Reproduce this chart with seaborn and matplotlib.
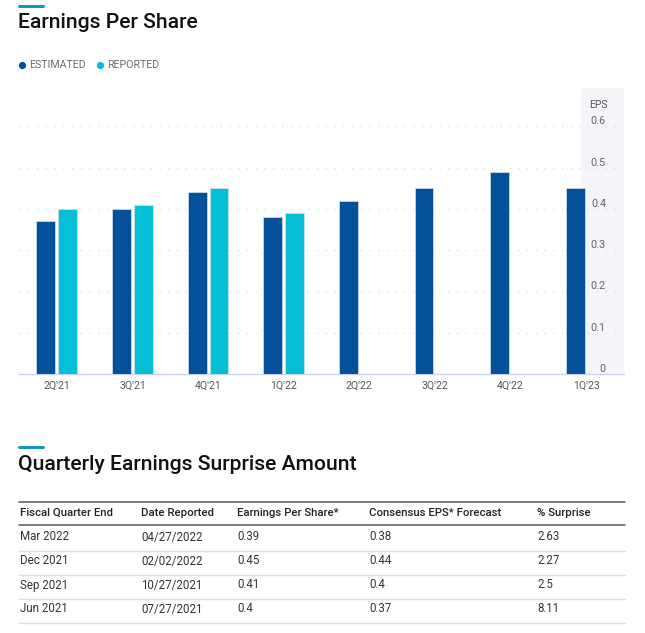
import seaborn as sns
import matplotlib.pyplot as plt
import pandas as pd
import numpy as np
from matplotlib.lines import Line2D

# Chart data
quarters = ["2Q'21", "3Q'21", "4Q'21", "1Q'22", "2Q'22", "3Q'22", "4Q'22", "1Q'23"]
estimated = [0.37, 0.40, 0.44, 0.38, 0.42, 0.45, 0.49, 0.45]
reported = [0.40, 0.41, 0.45, 0.39, np.nan, np.nan, np.nan, np.nan]
y_ticks = [0, 0.1, 0.2, 0.3, 0.4, 0.5, 0.6]

# Table data
table_header = ["Fiscal Quarter End", "Date Reported", "Earnings Per Share*",
                "Consensus EPS* Forecast", "% Surprise"]
fiscal_quarter = ["Mar 2022", "Dec 2021", "Sep 2021", "Jun 2021"]
date_reported = ["04/27/2022", "02/02/2022", "10/27/2021", "07/27/2021"]
eps_actual = ["0.39", "0.45", "0.41", "0.4"]
eps_forecast = ["0.38", "0.44", "0.4", "0.37"]
pct_surprise = ["2.63", "2.27", "2.5", "8.11"]

EST_COLOR = "#02519a"
REP_COLOR = "#04bfd6"
ACCENT = "#1396c2"

sns.set_style("white")
plt.rcParams['font.family'] = ['Roboto', 'DejaVu Sans']

df = pd.DataFrame({
    'quarter': quarters * 2,
    'series': ['Estimated'] * len(quarters) + ['Reported'] * len(quarters),
    'eps': estimated + reported,
})

W, H = 645, 633
fig = plt.figure(figsize=(W / 100, H / 100), dpi=100)


def fx(px):
    return px / W


def fy(py):
    return 1 - py / H


# Header accent + title
fig.add_artist(Line2D([fx(19), fx(43)], [fy(6), fy(6)], color=ACCENT, lw=2.2))
fig.text(fx(18), fy(22), "Earnings Per Share", fontsize=15.2, color='#111111',
         va='center', ha='left', fontweight='medium')

# Legend
fig.add_artist(Line2D([fx(22)], [fy(65)], marker='o', markersize=4.2, color=EST_COLOR, lw=0))
fig.text(fx(29), fy(65), "ESTIMATED", fontsize=7.7, color='#6b6b6b', va='center')
fig.add_artist(Line2D([fx(100)], [fy(65)], marker='o', markersize=4.2, color=REP_COLOR, lw=0))
fig.text(fx(107), fy(65), "REPORTED", fontsize=7.7, color='#6b6b6b', va='center')

# Bar chart
ax_left, ax_right, ax_top, ax_bottom = 19, 624, 88, 374
ax = fig.add_axes([fx(ax_left), fy(ax_bottom), (ax_right - ax_left) / W, (ax_bottom - ax_top) / H])
sns.barplot(data=df, x='quarter', y='eps', hue='series', order=quarters,
            hue_order=['Estimated', 'Reported'], palette=[EST_COLOR, REP_COLOR],
            width=0.58, gap=0.14, saturation=1, ax=ax, legend=False, zorder=3,
            edgecolor='#d5e3f0', linewidth=0.5)

ax.set_xlim(-0.5, len(quarters) - 0.5)
ax.set_ylim(0, (ax_bottom - ax_top) / 413.0)
ax.axvspan(6.93, len(quarters) - 0.5, color='#f4f4f9', zorder=0, lw=0)

for t in y_ticks[1:]:
    ax.axhline(t, color='#dcdcdc', lw=0.9, linestyle=(0, (1, 6)), zorder=1)

ax.yaxis.tick_right()
ax.set_yticks(y_ticks)
ax.set_yticklabels([f"{t:g}" for t in y_ticks], fontsize=7.8, color='#666666')
ax.tick_params(axis='y', length=0, pad=-13)
for lab in ax.get_yticklabels():
    lab.set_ha('right')
    lab.set_va('bottom')
ax.text(0.957, 0.94, "EPS", transform=ax.transAxes, fontsize=7.4, color='#555555',
        ha='center', va='center')

ax.tick_params(axis='x', length=0, pad=5, labelsize=7.6, labelcolor='#555555')
ax.set_xlabel('')
ax.set_ylabel('')
for s in ['top', 'right', 'left']:
    ax.spines[s].set_visible(False)
ax.spines['bottom'].set_color('#c8d5ea')
ax.spines['bottom'].set_linewidth(1.0)

# Table section
fig.add_artist(Line2D([fx(19), fx(43)], [fy(447), fy(447)], color=ACCENT, lw=2.2))
fig.text(fx(18), fy(465), "Quarterly Earnings Surprise Amount", fontsize=15.2,
         color='#111111', va='center', ha='left', fontweight='medium')

col_x = [20, 141, 237, 369, 537]
fig.add_artist(Line2D([fx(19), fx(625)], [fy(501.5), fy(501.5)], color='#666666', lw=1.2))
fig.add_artist(Line2D([fx(19), fx(625)], [fy(525), fy(525)], color='#666666', lw=1.2))
for x, h in zip(col_x, table_header):
    fig.text(fx(x), fy(513), h, fontsize=8.2, color='#222222', va='center',
             fontweight='medium')

columns = [fiscal_quarter, date_reported, eps_actual, eps_forecast, pct_surprise]
for i in range(len(fiscal_quarter)):
    row_y = 537 + i * 24
    for x, col in zip(col_x, columns):
        fig.text(fx(x), fy(row_y), col[i], fontsize=8.3, color='#333333', va='center')
    fig.add_artist(Line2D([fx(19), fx(625)], [fy(row_y + 13.5), fy(row_y + 13.5)],
                          color='#dedede', lw=1.0))

plt.savefig('out.png', dpi=100)
plt.close()
